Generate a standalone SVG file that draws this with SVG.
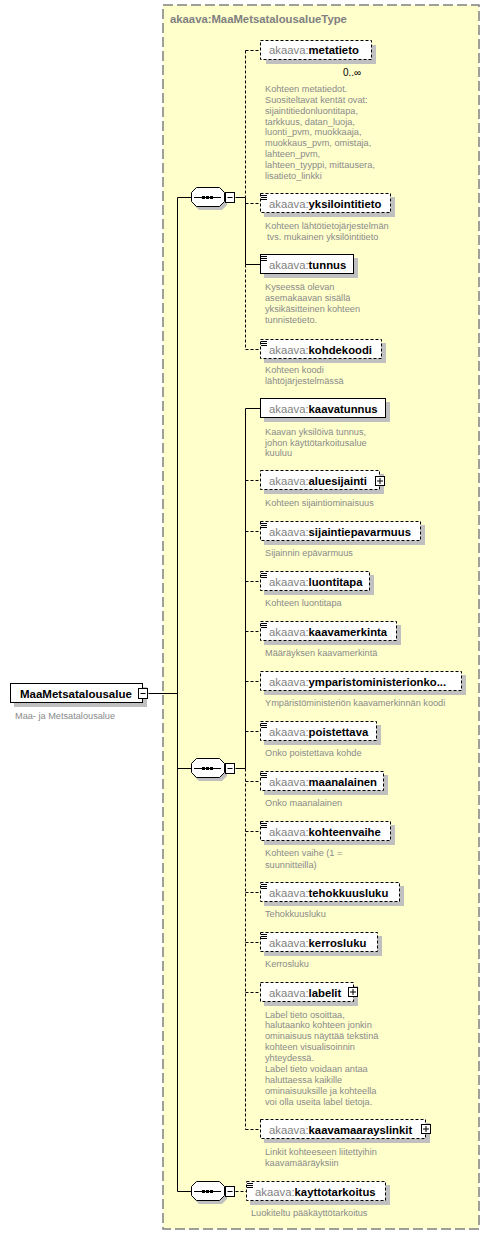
<svg xmlns="http://www.w3.org/2000/svg" width="490" height="1235" viewBox="0 0 490 1235">
<defs>
<style>
.bg{fill:#ffffcc;stroke:#808080;stroke-width:1.5;stroke-dasharray:10,4}
.title{font-family:"Liberation Sans",Arial,sans-serif;font-size:11.3px;font-weight:bold;fill:#808080}
.box{fill:#fff;stroke:#000;stroke-width:1}
.opt{stroke-dasharray:3,2}
.sh{fill:#c0c0c0}
.nm{font-family:"Liberation Sans",Arial,sans-serif;font-size:11.3px;font-weight:bold;fill:#000}
.pf{font-weight:normal;fill:#808080}
.ds{font-family:"Liberation Sans",Arial,sans-serif;font-size:9.2px;fill:#8a8a8a}
.ln{stroke:#000;stroke-width:1;fill:none}
.dl{stroke:#000;stroke-width:1;fill:none;stroke-dasharray:3,2}
.ic{stroke:#000;stroke-width:1}
</style>
<g id="seqshape">
<polygon points="199,190 222,190 227,195 227,205 222,210 199,210 194,205 194,195" class="sh"/>
<polygon points="196.5,187.5 219.5,187.5 224.5,192.5 224.5,201.5 219.5,206.5 196.5,206.5 191.5,201.5 191.5,192.5" class="box"/>
<line x1="194" y1="197.5" x2="221" y2="197.5" class="ic"/>
<rect x="202" y="196" width="3" height="3" fill="#000"/>
<rect x="206" y="196" width="3" height="3" fill="#000"/>
<rect x="210" y="196" width="3" height="3" fill="#000"/>
<rect x="225.5" y="192.5" width="9" height="10" class="box"/>
<line x1="227.5" y1="197.5" x2="232.5" y2="197.5" class="ic"/>
</g>
<g id="icon">
<line x1="0" y1="0.5" x2="6" y2="0.5" class="ic"/>
<line x1="0" y1="2.5" x2="6" y2="2.5" class="ic"/>
<line x1="0" y1="4.5" x2="6" y2="4.5" class="ic"/>
</g>
<g id="plus">
<rect x="0.5" y="0.5" width="9" height="9" class="box"/>
<line x1="2" y1="5" x2="8" y2="5" class="ic"/>
<line x1="5" y1="2" x2="5" y2="8" class="ic"/>
</g>
</defs>

<rect x="163" y="5" width="316" height="1224" class="bg"/>
<text x="170" y="23" class="title">akaava:MaaMetsatalousalueType</text>

<g id="connectors" transform="translate(0.5,0.5)">
<line x1="148" y1="693" x2="177" y2="693" class="ln"/>
<line x1="177" y1="197" x2="177" y2="1191" class="ln"/>
<line x1="177" y1="197" x2="191" y2="197" class="ln"/>
<line x1="177" y1="768" x2="191" y2="768" class="ln"/>
<line x1="177" y1="1191" x2="191" y2="1191" class="ln"/>
<line x1="235" y1="197" x2="245" y2="197" class="ln"/>
<line x1="235" y1="768" x2="245" y2="768" class="ln"/>
<line x1="235" y1="1191" x2="246" y2="1191" class="dl"/>
<line x1="245" y1="50" x2="245" y2="197" class="dl"/>
<line x1="245" y1="197" x2="245" y2="264" class="ln"/>
<line x1="245" y1="264" x2="245" y2="349" class="dl"/>
<line x1="245" y1="50" x2="260" y2="50" class="dl"/>
<line x1="245" y1="203" x2="260" y2="203" class="dl"/>
<line x1="245" y1="264" x2="260" y2="264" class="ln"/>
<line x1="245" y1="349" x2="260" y2="349" class="dl"/>
<line x1="245" y1="408" x2="245" y2="768" class="ln"/>
<line x1="245" y1="768" x2="245" y2="1129" class="dl"/>
<line x1="245" y1="408" x2="260" y2="408" class="ln"/>
<line x1="245" y1="480" x2="260" y2="480" class="dl"/>
<line x1="245" y1="531" x2="260" y2="531" class="dl"/>
<line x1="245" y1="581" x2="260" y2="581" class="dl"/>
<line x1="245" y1="631" x2="260" y2="631" class="dl"/>
<line x1="245" y1="681" x2="260" y2="681" class="dl"/>
<line x1="245" y1="731" x2="260" y2="731" class="dl"/>
<line x1="245" y1="781" x2="260" y2="781" class="dl"/>
<line x1="245" y1="831" x2="260" y2="831" class="dl"/>
<line x1="245" y1="892" x2="260" y2="892" class="dl"/>
<line x1="245" y1="942" x2="260" y2="942" class="dl"/>
<line x1="245" y1="992" x2="260" y2="992" class="dl"/>
<line x1="245" y1="1129" x2="260" y2="1129" class="dl"/>
</g>

<g id="MaaMetsatalousalue">
<rect x="14" y="687" width="133" height="20" class="sh"/>
<rect x="10.5" y="683.5" width="132" height="19" class="box"/>
<rect x="138.5" y="688.5" width="9" height="10" class="box"/>
<line x1="140.5" y1="693.5" x2="145.5" y2="693.5" class="ic"/>
<text x="20" y="697.5" class="nm" style="font-size:11.5px">MaaMetsatalousalue</text>
<text x="15" y="719" class="ds">Maa- ja Metsatalousalue</text>
</g>

<g id="seq1"><use href="#seqshape"/></g>
<g id="seq2"><use href="#seqshape" transform="translate(0,571)"/></g>
<g id="seq3"><use href="#seqshape" transform="translate(0,994)"/></g>

<g id="metatieto">
<rect x="266" y="45" width="110" height="19" class="sh"/>
<rect x="260.5" y="40.5" width="111" height="19" class="box opt"/>
<text x="269" y="54" class="nm"><tspan class="pf">akaava:</tspan>metatieto</text>
<text x="343" y="76" style="font-family:'Liberation Sans',Arial,sans-serif;font-size:10px;fill:#000">0..∞</text>
<text class="ds"><tspan x="265" y="92">Kohteen metatiedot.</tspan><tspan x="265" y="102.8">Suositeltavat kentät ovat:</tspan><tspan x="265" y="113.7">sijaintitiedonluontitapa,</tspan><tspan x="265" y="124.5">tarkkuus, datan_luoja,</tspan><tspan x="265" y="135.4">luonti_pvm, muokkaaja,</tspan><tspan x="265" y="146.2">muokkaus_pvm, omistaja,</tspan><tspan x="265" y="157">lahteen_pvm,</tspan><tspan x="265" y="167.9">lahteen_tyyppi, mittausera,</tspan><tspan x="265" y="178.7">lisatieto_linkki</tspan></text>
</g>

<g id="yksilointitieto">
<rect x="264" y="197" width="131" height="20" class="sh"/>
<rect x="260.5" y="193.5" width="130" height="19" class="box opt"/>
<use href="#icon" x="261" y="195"/>
<text x="269" y="207.5" class="nm"><tspan class="pf">akaava:</tspan>yksilointitieto</text>
<text class="ds"><tspan x="265" y="229">Kohteen lähtötietojärjestelmän</tspan><tspan x="267" y="240">tvs. mukainen yksilöintitieto</tspan></text>
</g>

<g id="tunnus">
<rect x="264" y="258" width="94" height="20" class="sh"/>
<rect x="260.5" y="254.5" width="93" height="19" class="box"/>
<use href="#icon" x="261" y="256"/>
<text x="269" y="268.5" class="nm"><tspan class="pf">akaava:</tspan>tunnus</text>
<text class="ds"><tspan x="265" y="290">Kyseessä olevan</tspan><tspan x="265" y="301">asemakaavan sisällä</tspan><tspan x="265" y="312.3">yksikäsitteinen kohteen</tspan><tspan x="265" y="323.4">tunnistetieto.</tspan></text>
</g>

<g id="kohdekoodi">
<rect x="264" y="343" width="122" height="20" class="sh"/>
<rect x="260.5" y="339.5" width="121" height="19" class="box opt"/>
<use href="#icon" x="261" y="341"/>
<text x="269" y="353.5" class="nm"><tspan class="pf">akaava:</tspan>kohdekoodi</text>
<text class="ds"><tspan x="265" y="372.5">Kohteen koodi</tspan><tspan x="265" y="384">lähtöjärjestelmässä</tspan></text>
</g>

<g id="kaavatunnus">
<rect x="264" y="402" width="126" height="20" class="sh"/>
<rect x="260.5" y="398.5" width="125" height="19" class="box"/>
<text x="269" y="412.5" class="nm"><tspan class="pf">akaava:</tspan>kaavatunnus</text>
<text class="ds"><tspan x="265" y="435">Kaavan yksilöivä tunnus,</tspan><tspan x="265" y="445.7">johon käyttötarkoitusalue</tspan><tspan x="265" y="456.2">kuuluu</tspan></text>
</g>

<g id="aluesijainti">
<rect x="264" y="474" width="120" height="20" class="sh"/>
<rect x="260.5" y="470.5" width="119" height="19" class="box opt"/>
<use href="#plus" x="375" y="476"/>
<text x="269" y="484.5" class="nm"><tspan class="pf">akaava:</tspan>aluesijainti</text>
<text x="265" y="506" class="ds">Kohteen sijaintiominaisuus</text>
</g>

<g id="sijaintiepavarmuus">
<rect x="264" y="525" width="161" height="20" class="sh"/>
<rect x="260.5" y="521.5" width="160" height="19" class="box opt"/>
<use href="#icon" x="261" y="523"/>
<text x="269" y="535.5" class="nm"><tspan class="pf">akaava:</tspan>sijaintiepavarmuus</text>
<text x="265" y="556" class="ds">Sijainnin epävarmuus</text>
</g>

<g id="luontitapa">
<rect x="264" y="575" width="110" height="20" class="sh"/>
<rect x="260.5" y="571.5" width="109" height="19" class="box opt"/>
<use href="#icon" x="261" y="573"/>
<text x="269" y="585.5" class="nm"><tspan class="pf">akaava:</tspan>luontitapa</text>
<text x="265" y="606" class="ds">Kohteen luontitapa</text>
</g>

<g id="kaavamerkinta">
<rect x="264" y="625" width="137" height="20" class="sh"/>
<rect x="260.5" y="621.5" width="136" height="19" class="box opt"/>
<use href="#icon" x="261" y="623"/>
<text x="269" y="635.5" class="nm"><tspan class="pf">akaava:</tspan>kaavamerkinta</text>
<text x="265" y="656" class="ds">Määräyksen kaavamerkintä</text>
</g>

<g id="ymparistoministerionkoodi">
<rect x="264" y="675" width="202" height="20" class="sh"/>
<rect x="260.5" y="671.5" width="201" height="19" class="box opt"/>
<text x="269" y="685.5" class="nm"><tspan class="pf">akaava:</tspan>ymparistoministerionko...</text>
<text x="265" y="706" class="ds">Ympäristöministeriön kaavamerkinnän koodi</text>
</g>

<g id="poistettava">
<rect x="264" y="725" width="117" height="20" class="sh"/>
<rect x="260.5" y="721.5" width="116" height="19" class="box opt"/>
<use href="#icon" x="261" y="723"/>
<text x="269" y="735.5" class="nm"><tspan class="pf">akaava:</tspan>poistettava</text>
<text x="265" y="756" class="ds">Onko poistettava kohde</text>
</g>

<g id="maanalainen">
<rect x="264" y="775" width="124" height="20" class="sh"/>
<rect x="260.5" y="771.5" width="123" height="19" class="box opt"/>
<use href="#icon" x="261" y="773"/>
<text x="269" y="785.5" class="nm"><tspan class="pf">akaava:</tspan>maanalainen</text>
<text x="265" y="806" class="ds">Onko maanalainen</text>
</g>

<g id="kohteenvaihe">
<rect x="264" y="825" width="131" height="20" class="sh"/>
<rect x="260.5" y="821.5" width="130" height="19" class="box opt"/>
<use href="#icon" x="261" y="823"/>
<text x="269" y="835.5" class="nm"><tspan class="pf">akaava:</tspan>kohteenvaihe</text>
<text class="ds"><tspan x="265" y="856">Kohteen vaihe (1 =</tspan><tspan x="265" y="867.5">suunnitteilla)</tspan></text>
</g>

<g id="tehokkuusluku">
<rect x="264" y="886" width="140" height="20" class="sh"/>
<rect x="260.5" y="882.5" width="139" height="19" class="box opt"/>
<use href="#icon" x="261" y="884"/>
<text x="269" y="896.5" class="nm"><tspan class="pf">akaava:</tspan>tehokkuusluku</text>
<text x="265" y="917" class="ds">Tehokkuusluku</text>
</g>

<g id="kerrosluku">
<rect x="264" y="936" width="118" height="20" class="sh"/>
<rect x="260.5" y="932.5" width="117" height="19" class="box opt"/>
<use href="#icon" x="261" y="934"/>
<text x="269" y="946.5" class="nm"><tspan class="pf">akaava:</tspan>kerrosluku</text>
<text x="265" y="967" class="ds">Kerrosluku</text>
</g>

<g id="labelit">
<rect x="264" y="986" width="94" height="20" class="sh"/>
<rect x="260.5" y="982.5" width="93" height="19" class="box opt"/>
<use href="#plus" x="348" y="987"/>
<text x="269" y="996.5" class="nm"><tspan class="pf">akaava:</tspan>labelit</text>
<text class="ds"><tspan x="265" y="1017.5">Label tieto osoittaa,</tspan><tspan x="265" y="1028.3">halutaanko kohteen jonkin</tspan><tspan x="265" y="1039.2">ominaisuus näyttää tekstinä</tspan><tspan x="265" y="1050">kohteen visualisoinnin</tspan><tspan x="265" y="1061">yhteydessä.</tspan><tspan x="265" y="1072">Label tieto voidaan antaa</tspan><tspan x="265" y="1083">haluttaessa kaikille</tspan><tspan x="265" y="1094">ominaisuuksille ja kohteella</tspan><tspan x="265" y="1105">voi olla useita label tietoja.</tspan></text>
</g>

<g id="kaavamaarayslinkit">
<rect x="264" y="1123" width="166" height="20" class="sh"/>
<rect x="260.5" y="1119.5" width="165" height="19" class="box opt"/>
<use href="#plus" x="421" y="1124"/>
<text x="269" y="1133.5" class="nm"><tspan class="pf">akaava:</tspan>kaavamaarayslinkit</text>
<text class="ds"><tspan x="265" y="1154.5">Linkit kohteeseen liitettyihin</tspan><tspan x="265" y="1166">kaavamääräyksiin</tspan></text>
</g>

<g id="kayttotarkoitus">
<rect x="250" y="1185" width="140" height="20" class="sh"/>
<rect x="246.5" y="1181.5" width="139" height="19" class="box opt"/>
<use href="#icon" x="247" y="1183"/>
<text x="255" y="1195.5" class="nm"><tspan class="pf">akaava:</tspan>kayttotarkoitus</text>
<text x="251" y="1216" class="ds">Luokiteltu pääkäyttötarkoitus</text>
</g>
</svg>
